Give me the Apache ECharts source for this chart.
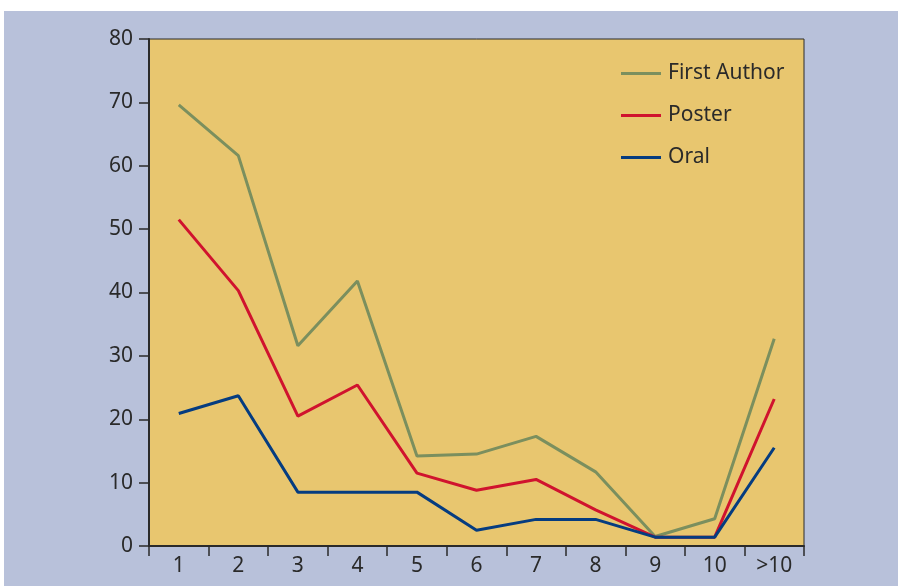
<!DOCTYPE html>
<html><head><meta charset="utf-8">
<script src="https://cdn.jsdelivr.net/npm/echarts@6/dist/echarts.min.js"></script>
<style>html,body{margin:0;padding:0;background:#fff}#c{width:898px;height:586px}</style>
</head><body><div id="c"></div>
<script>
const categories = ['1','2','3','4','5','6','7','8','9','10','>10'];
const firstAuthor = [69.6, 61.6, 31.6, 41.8, 14.2, 14.5, 17.3, 11.7, 1.5, 4.3, 32.7];
const poster = [51.5, 40.3, 20.5, 25.4, 11.5, 8.8, 10.5, 5.7, 1.4, 1.4, 23.2];
const oral = [20.9, 23.7, 8.5, 8.5, 8.5, 2.5, 4.2, 4.2, 1.4, 1.4, 15.5];
const yTicks = [0, 10, 20, 30, 40, 50, 60, 70, 80];

const font = '"Noto Sans", "Open Sans", sans-serif';
const chart = echarts.init(document.getElementById('c'));
const mk = (name, data, color) => ({
  name, type: 'line', data, symbol: 'none', smooth: false,
  lineStyle: { color, width: 3 }, itemStyle: { color }
});
chart.setOption({
  backgroundColor: '#ffffff',
  animation: false,
  graphic: [{ type: 'rect', z: -10, shape: { x: 4, y: 11, width: 894, height: 575 }, style: { fill: '#b8c1da' } }],
  grid: { left: 149, top: 39, right: 94, bottom: 40, show: true, backgroundColor: '#e8c66f', borderColor: '#2a2a2a', borderWidth: 1 },
  legend: {
    orient: 'vertical', left: 616, top: 58, itemWidth: 40, itemHeight: 3, itemGap: 21, icon: 'rect',
    textStyle: { fontFamily: font, fontSize: 21, color: '#2a2a2a', lineHeight: 20, padding: [0,0,0,2] },
    data: ['First Author', 'Poster', 'Oral']
  },
  xAxis: {
    type: 'category', data: categories, boundaryGap: true,
    axisLine: { lineStyle: { color: '#2a2a2a', width: 2 } },
    axisTick: { show: true, alignWithLabel: false, length: 10, lineStyle: { color: '#2a2a2a', width: 1.5 } },
    axisLabel: { fontFamily: font, fontSize: 21, color: '#2a2a2a', margin: 10 },
    splitLine: { show: false }
  },
  yAxis: {
    type: 'value', min: 0, max: 80, interval: 10,
    axisLine: { show: true, lineStyle: { color: '#2a2a2a', width: 2 } },
    axisTick: { show: true, length: 10, lineStyle: { color: '#2a2a2a', width: 1.5 } },
    axisLabel: { fontFamily: font, fontSize: 21, color: '#2a2a2a', margin: 16,
      formatter: v => yTicks.includes(v) ? String(v) : '' },
    splitLine: { show: false }
  },
  series: [
    mk('First Author', firstAuthor, '#7b8f5e'),
    mk('Poster', poster, '#d0132e'),
    mk('Oral', oral, '#053c80')
  ]
});
</script></body></html>
